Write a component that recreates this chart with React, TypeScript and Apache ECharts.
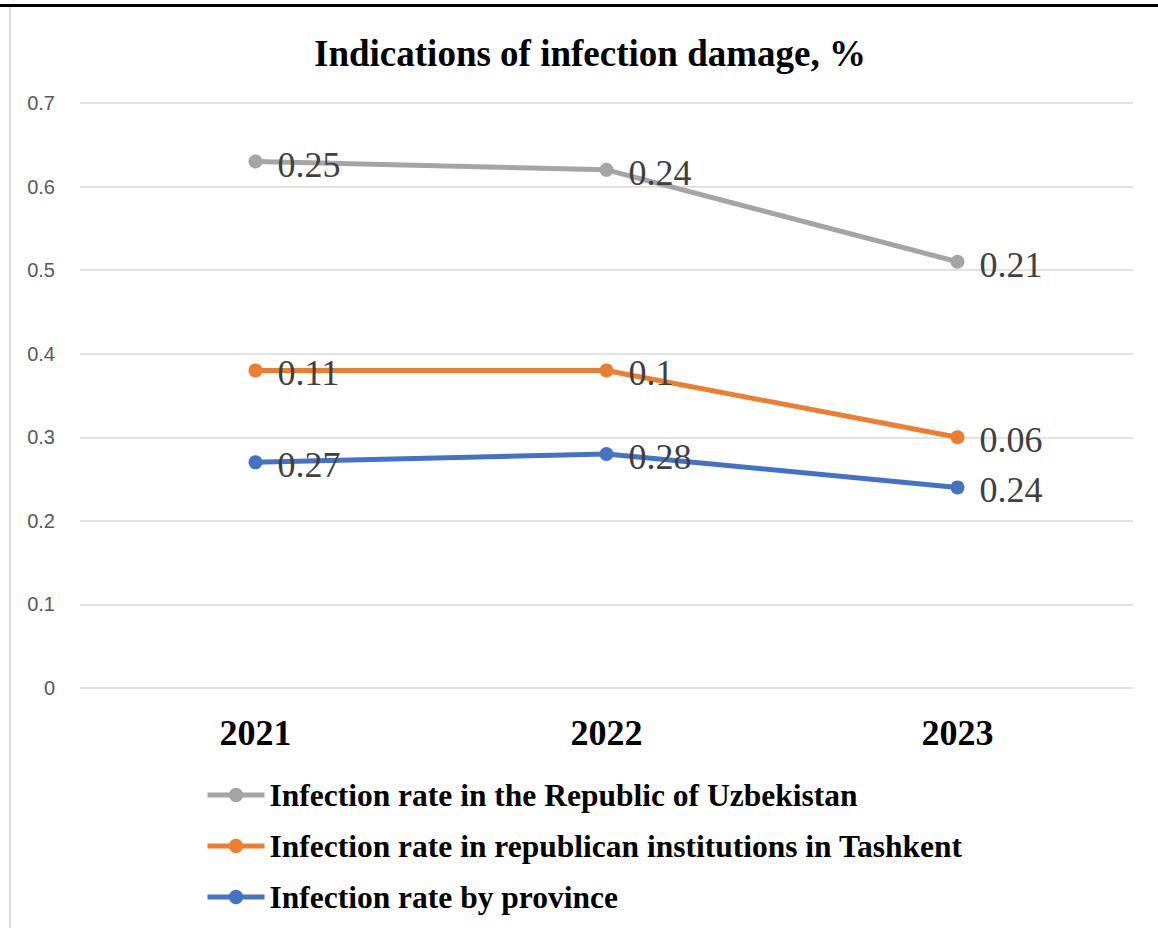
import React, { useEffect, useRef } from "react";
import * as echarts from "echarts";

const categories = ["2021", "2022", "2023"];
const seriesNames = [
  "Infection rate in the Republic of Uzbekistan",
  "Infection rate in republican institutions in Tashkent",
  "Infection rate by province",
];
// stacked values (labels show raw values)
const provinceValues = [0.27, 0.28, 0.24];
const tashkentValues = [0.11, 0.1, 0.06];
const republicValues = [0.25, 0.24, 0.21];
const yTicks = [0, 0.1, 0.2, 0.3, 0.4, 0.5, 0.6, 0.7];

const SERIF = "'Liberation Serif', 'Times New Roman', serif";

export default function App() {
  const ref = useRef<HTMLDivElement>(null);
  useEffect(() => {
    if (!ref.current) return;
    const chart = echarts.init(ref.current, undefined, { renderer: "svg" });
    const mk = (name: string, data: number[], color: string) => ({
      name,
      type: "line",
      stack: "total",
      data,
      symbol: "circle",
      symbolSize: 14,
      lineStyle: { width: 5, color },
      itemStyle: { color },
      label: {
        show: true,
        position: "right",
        distance: 15,
        offset: [0, 3],
        fontFamily: SERIF,
        fontSize: 36,
        color: "#404040",
      },
    });
    chart.setOption({
      animation: false,
      backgroundColor: "#ffffff",
      title: {
        text: "Indications of infection damage, %",
        left: 585,
        textAlign: "center",
        top: 30,
        textStyle: { fontFamily: SERIF, fontSize: 37, fontWeight: "bold", color: "#000" },
      },
      grid: { left: 80, right: 25, top: 103, bottom: 240, containLabel: false },
      xAxis: {
        type: "category",
        data: categories,
        boundaryGap: true,
        axisLine: { show: false },
        axisTick: { show: false },
        axisLabel: {
          fontFamily: SERIF,
          fontSize: 36,
          fontWeight: "bold",
          color: "#000",
          margin: 27,
        },
      },
      yAxis: {
        type: "value",
        min: yTicks[0],
        max: yTicks[yTicks.length - 1],
        interval: 0.1,
        axisLine: { show: false },
        axisTick: { show: false },
        splitLine: { lineStyle: { color: "#d9d9d9", width: 1.5 } },
        axisLabel: {
          fontFamily: "'Liberation Sans', Arial, sans-serif",
          fontSize: 20,
          color: "#595959",
          margin: 25,
          formatter: (v: number) => String(Math.round(v * 10) / 10),
        },
      },
      legend: {
        orient: "vertical",
        left: 205,
        top: 779,
        padding: 0,
        data: seriesNames,
        itemWidth: 57,
        itemHeight: 18,
        itemGap: 19,
        itemTextGap: 0,
        lineStyle: { width: 5 },
        textStyle: {
          fontFamily: SERIF,
          fontSize: 31.5,
          fontWeight: "bold",
          color: "#000",
          lineHeight: 30,
        },
      },
      graphic: [
        { type: "rect", shape: { x: 0, y: 4, width: 1158, height: 3 }, style: { fill: "#000" } },
        { type: "rect", shape: { x: 9, y: 7, width: 2, height: 921 }, style: { fill: "#d9d9d9" } },
      ],
      series: [
        mk(seriesNames[2], provinceValues, "#4472C4"),
        mk(seriesNames[1], tashkentValues, "#ED7D31"),
        mk(seriesNames[0], republicValues, "#A5A5A5"),
      ],
    });
    return () => chart.dispose();
  }, []);
  return (
    <div
      ref={ref}
      style={{ position: "absolute", left: 0, top: 0, width: 1158, height: 928 }}
    />
  );
}
